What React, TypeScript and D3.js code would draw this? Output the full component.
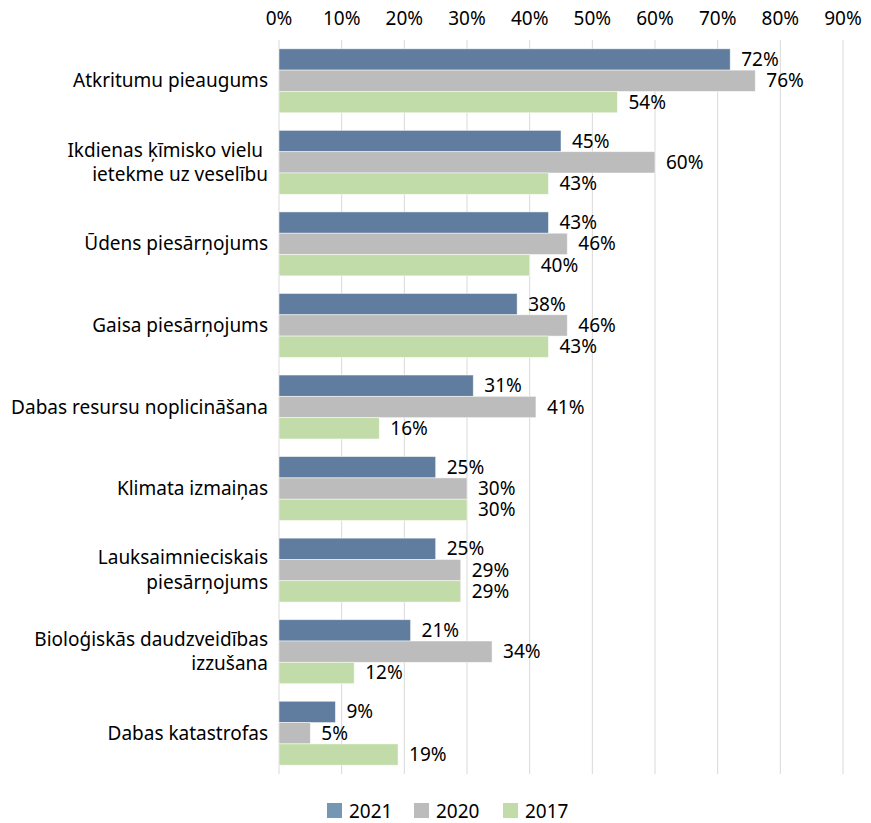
import React from "react";
import * as d3 from "d3";

const categories = [
  ["Atkritumu pieaugums"],
  ["Ikdienas ķīmisko vielu ", "ietekme uz veselību"],
  ["Ūdens piesārņojums"],
  ["Gaisa piesārņojums"],
  ["Dabas resursu noplicināšana"],
  ["Klimata izmaiņas"],
  ["Lauksaimnieciskais", "piesārņojums"],
  ["Bioloģiskās daudzveidības", "izzušana"],
  ["Dabas katastrofas"],
];
const seriesNames = ["2021", "2020", "2017"];
const values2021 = [72, 45, 43, 38, 31, 25, 25, 21, 9];
const values2020 = [76, 60, 46, 46, 41, 30, 29, 34, 5];
const values2017 = [54, 43, 40, 43, 16, 30, 29, 12, 19];
const ticks = [0, 10, 20, 30, 40, 50, 60, 70, 80, 90];
const colors = ["#607c9f", "#bcbcbc", "#c1dca8"];
const legendColors = ["#7497b3", "#bcbcbc", "#c1dca8"];

const W = 871;
const H = 823;
const FONT = "'Noto Sans', sans-serif";
const FS = 19;

export default function App() {
  const series = [values2021, values2020, values2017];
  const x = d3.scaleLinear().domain([0, 90]).range([279, 843]);
  const y = d3.scaleBand().domain(categories.map((_, i) => String(i))).range([40, 774]).paddingInner(0.216).paddingOuter(0.108);
  const yInner = d3.scaleBand().domain(seriesNames).range([0, y.bandwidth()]);
  const legendX = [327, 414, 503];
  return (
    <svg width={W} height={H} style={{ position: "absolute", left: 0, top: 0, fontFamily: FONT }}>
      {ticks.map((t) => (
        <g key={t}>
          <line x1={x(t)} x2={x(t)} y1={40} y2={774} stroke="#d9d9d9" strokeWidth={1} />
          <text x={x(t)} y={25} textAnchor="middle" fontSize={FS} fill="#000">{t}%</text>
        </g>
      ))}
      {categories.map((cat, i) => {
        const y0 = y(String(i))!;
        const cy = y0 + y.bandwidth() / 2;
        return (
          <g key={i}>
            {series.map((vals, s) => {
              const by = y0 + yInner(seriesNames[s])!;
              return (
                <g key={s}>
                  <rect x={x(0)} y={by} width={x(vals[i]) - x(0)} height={yInner.bandwidth()} fill={colors[s]} stroke="#ffffff" strokeOpacity={0.6} strokeWidth={0.8} />
                  <text x={x(vals[i]) + 11} y={by + yInner.bandwidth() / 2 + 6.5} fontSize={FS} fill="#000">{vals[i]}%</text>
                </g>
              );
            })}
            {cat.map((line, k) => (
              <text key={k} x={268} y={cy + 6.5 + (k - (cat.length - 1) / 2) * 24.4} textAnchor="end" fontSize={FS} fill="#000" style={{ whiteSpace: "pre" }}>{line}</text>
            ))}
          </g>
        );
      })}
      {seriesNames.map((s, k) => (
        <g key={s}>
          <rect x={legendX[k]} y={803} width={15} height={15} fill={legendColors[k]} />
          <text x={legendX[k] + 22} y={818} fontSize={FS} fill="#000">{s}</text>
        </g>
      ))}
    </svg>
  );
}
